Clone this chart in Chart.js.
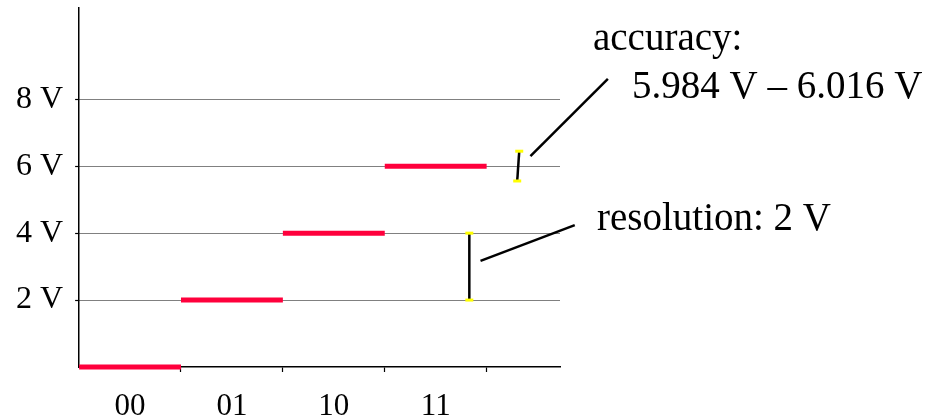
<!DOCTYPE html>
<html>
<head>
<meta charset="utf-8">
<script src="https://cdn.jsdelivr.net/npm/chart.js@4/dist/chart.umd.min.js"></script>
<style>
  html,body{margin:0;padding:0;background:#fff;}
  #wrap{width:928px;height:419px;position:relative;}
</style>
</head>
<body>
<div id="wrap"><canvas id="c"></canvas></div>
<script>
/* ---------- data ---------- */
const codes = ['00', '01', '10', '11'];          // digital codes on the x axis
const codeLevels = [0, 2, 4, 6];                 // output voltage of each code (V)
const yTicks = [2, 4, 6, 8];                     // voltage gridlines
const xCodeTicks = [0.5, 1.5, 2.5, 3.5];         // where the code labels sit
const xEdgeTicks = [1, 2, 3, 4];                 // tick marks between codes
// annotation marks (x in code units, y in volts)
const resolutionBar = [{x:3.83, y:2}, {x:3.83, y:4}];
const resolutionLeader = [{x:3.94, y:3.17}, {x:4.865, y:4.24}];
const accuracyBar = [{x:4.32, y:6.45}, {x:4.30, y:5.56}];
const accuracyLeader = [{x:4.43, y:6.30}, {x:5.19, y:8.61}];

const SERIF = "'Liberation Serif', 'Times New Roman', serif";

/* ---------- datasets ---------- */
const steps = codes.map((c,i)=>({
  label: c,
  data: [{x:i, y:codeLevels[i]}, {x:i+1, y:codeLevels[i]}],
  borderColor: '#ff003c', borderWidth: 5, borderCapStyle: 'butt',
  pointRadius: 0, clip: false
}));
const black = (data)=>({
  data, borderColor:'#000', borderWidth:2.5, pointRadius:0, clip:false
});
const capped = (data)=>({
  data, borderColor:'#000', borderWidth:2.5, clip:false,
  pointStyle:'line', pointRadius:4, pointBorderWidth:3,
  pointBorderColor:'#ffff00', pointBackgroundColor:'#ffff00'
});

/* annotation text */
const notes = {
  id:'notes',
  afterDraw(chart){
    const ctx = chart.ctx;
    ctx.save();
    ctx.fillStyle = '#000';
    ctx.font = '39px ' + SERIF;
    ctx.textBaseline = 'alphabetic';
    ctx.fillText('accuracy:', 593, 50);
    ctx.fillText('5.984 V \u2013 6.016 V', 632, 98);
    ctx.fillText('resolution: 2 V', 597, 230);
    ctx.restore();
  }
};

new Chart(document.getElementById('c'), {
  type: 'line',
  data: {
    datasets: [
      ...steps,
      capped(resolutionBar),
      black(resolutionLeader),
      capped(accuracyBar),
      black(accuracyLeader)
    ]
  },
  options: {
    responsive: true,
    maintainAspectRatio: false,
    animation: false,
    events: [],
    // chart.js counts tick padding twice when fitting, hence the odd numbers
    layout: { padding: { top: 8, right: 368, left: 4, bottom: -22 } },
    plugins: { legend: {display:false}, tooltip: {enabled:false} },
    scales: {
      x: {
        type: 'linear', min: 0, max: 4.72,
        afterBuildTicks: (s)=>{
          s.ticks = [...xCodeTicks, ...xEdgeTicks].sort((a,b)=>a-b).map(v=>({value:v}));
        },
        afterFit: (s)=>{ s.paddingLeft = 0; s.paddingRight = 0; },
        ticks: {
          autoSkip: false, maxRotation: 0, padding: 19, color: '#000',
          font: { family: SERIF, size: 31, lineHeight: 1 },
          callback: (v)=>{
            const i = xCodeTicks.indexOf(v);
            return i >= 0 ? codes[i] : '';
          }
        },
        grid: {
          drawOnChartArea: false, tickLength: 5, tickWidth: 1.2,
          tickColor: (ctx)=> (ctx.tick && xEdgeTicks.includes(ctx.tick.value)) ? '#000' : 'rgba(0,0,0,0)'
        },
        border: { color: '#000', width: 1.5 }
      },
      y: {
        type: 'linear', min: 0, max: 10.73,
        afterBuildTicks: (s)=>{ s.ticks = yTicks.map(v=>({value:v})); },
        afterFit: (s)=>{ s.paddingTop = 0; s.paddingBottom = 0; },
        ticks: {
          padding: 12, color: '#000',
          font: { family: SERIF, size: 32, lineHeight: 1 },
          callback: (v)=> v + ' V'
        },
        grid: {
          color: '#000', lineWidth: 1, tickLength: 4, tickColor: '#000', tickWidth: 1.2
        },
        border: { color: '#000', width: 1.5, dash: [1, 1] }
      }
    }
  },
  plugins: [notes]
});
</script>
</body>
</html>
